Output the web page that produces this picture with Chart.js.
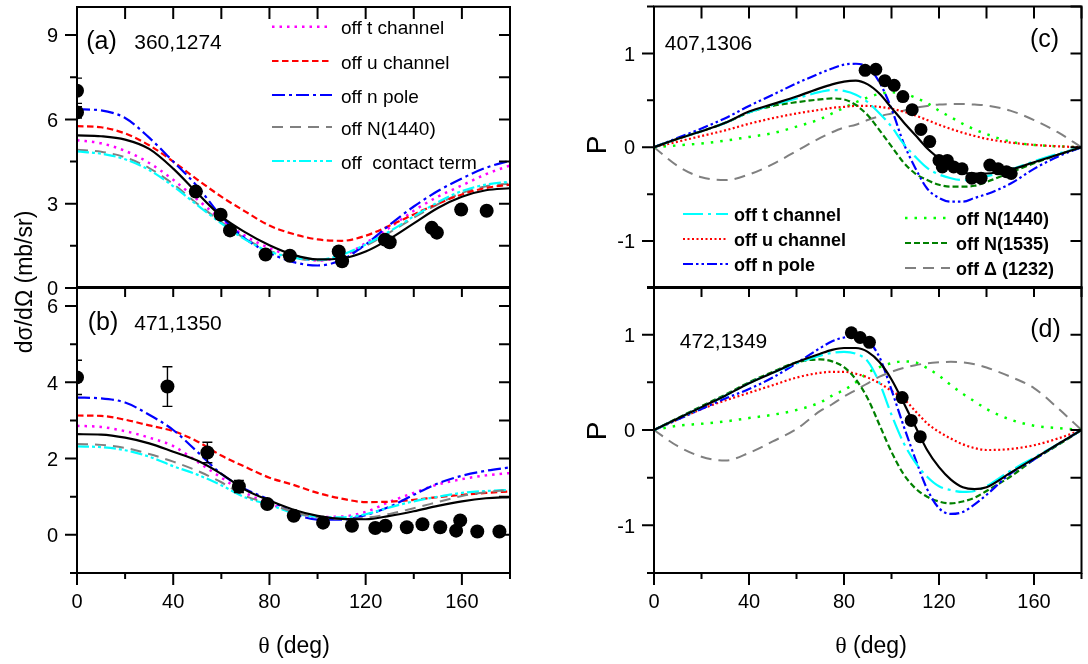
<!DOCTYPE html>
<html><head><meta charset="utf-8">
<script src="https://cdn.jsdelivr.net/npm/chart.js@4.4.1/dist/chart.umd.min.js"></script>
<style>
html,body{margin:0;padding:0;background:#fff;}
#wrap{position:relative;width:1088px;height:664px;overflow:hidden;background:#fff}
canvas{position:absolute;left:0;top:0}
</style></head>
<body><div id="wrap">
<canvas id="cA" width="1088" height="664"></canvas>
<canvas id="cB" width="1088" height="664"></canvas>
<canvas id="cC" width="1088" height="664"></canvas>
<canvas id="cD" width="1088" height="664"></canvas>
</div>
<script>
// ---------- data ----------
const THETA_AB = [0,10,20,30,40,50,60,70,80,90,100,110,120,130,140,150,160,170,180];
const THETA_CD = [0,10,20,30,40,50,60,70,75,80,85,90,95,100,105,110,115,120,125,130,135,140,150,160,170,180];

const X_TICKS = [0,20,40,60,80,100,120,140,160,180];
const X_TICK_LABELS = [0,40,80,120,160];
const Y_LABELS_A = [0,3,6,9];
const Y_MINOR_A = [1.5,4.5,7.5];
const Y_LABELS_B = [0,2,4,6];
const Y_MINOR_B = [-1,1,3,5];
const Y_LABELS_P = [-1,0,1];
const Y_MINOR_P = [-1.5,-0.5,0.5,1.5];

const LEGEND_A = ['off t channel','off u channel','off n pole','off N(1440)','off  contact term'];
const LEGEND_C = ['off t channel','off u channel','off n pole','off N(1440)','off N(1535)','off \u0394 (1232)'];

// (a) 360,1274  dσ/dΩ
const A_full       = [5.43,5.40,5.28,4.95,4.25,3.38,2.55,1.98,1.52,1.18,1.02,1.05,1.30,1.75,2.30,2.85,3.25,3.48,3.55];
const A_offT       = [5.26,5.15,4.88,4.45,3.85,3.15,2.45,1.85,1.42,1.12,0.98,1.12,1.60,2.15,2.75,3.25,3.65,4.05,4.36];
const A_offU       = [5.76,5.72,5.50,5.08,4.50,3.86,3.25,2.72,2.22,1.92,1.73,1.68,1.86,2.22,2.62,3.00,3.33,3.56,3.68];
const A_offN       = [6.36,6.32,6.05,5.35,4.50,3.62,2.55,1.75,1.25,0.92,0.80,1.00,1.55,2.25,2.90,3.45,3.90,4.28,4.53];
const A_offN1440   = [4.92,4.85,4.65,4.27,3.70,3.00,2.35,1.75,1.33,1.08,0.98,1.12,1.50,1.98,2.50,2.98,3.38,3.62,3.72];
const A_offContact = [4.86,4.78,4.58,4.20,3.62,2.95,2.30,1.72,1.30,1.08,1.00,1.18,1.55,2.02,2.55,3.05,3.45,3.68,3.78];
const A_ptTheta = [0,0,49.4,59.7,63.6,78.4,88.5,108.8,110.2,128,130,147.5,149.6,159.7,170.3];
const A_ptVal   = [7.02,6.25,3.43,2.61,2.05,1.19,1.15,1.30,0.95,1.72,1.63,2.14,1.97,2.79,2.75];
const A_ptErr   = [0.45,0.2,0.08,0.08,0.08,0.06,0.06,0.06,0.06,0.08,0.08,0.1,0.1,0.15,0.1];

// (b) 471,1350  dσ/dΩ
const B_full       = [2.64,2.63,2.55,2.40,2.18,1.95,1.60,1.18,0.90,0.66,0.50,0.42,0.41,0.50,0.62,0.76,0.88,0.96,0.99];
const B_offT       = [2.86,2.83,2.72,2.55,2.33,1.92,1.50,1.10,0.82,0.60,0.47,0.48,0.60,0.87,1.10,1.32,1.46,1.56,1.62];
const B_offU       = [3.13,3.12,3.02,2.87,2.72,2.45,2.08,1.78,1.50,1.31,1.10,0.95,0.86,0.87,0.92,0.99,1.05,1.10,1.14];
const B_offN       = [3.60,3.58,3.47,3.15,2.75,2.18,1.60,1.20,0.92,0.57,0.40,0.40,0.52,0.74,1.05,1.35,1.55,1.68,1.77];
const B_offN1440   = [2.38,2.36,2.28,2.12,1.92,1.68,1.38,1.02,0.82,0.60,0.46,0.42,0.45,0.55,0.70,0.86,1.02,1.12,1.18];
const B_offContact = [2.32,2.30,2.22,2.05,1.80,1.58,1.30,0.98,0.79,0.57,0.47,0.46,0.54,0.72,0.88,1.00,1.10,1.15,1.18];
const B_ptTheta = [0,37.6,54.2,67.3,79.1,90.1,102.3,114.3,124,128.2,137.1,143.6,151,157.6,159.3,166.4,175.6];
const B_ptVal   = [4.13,3.89,2.16,1.27,0.81,0.50,0.32,0.24,0.18,0.24,0.20,0.28,0.20,0.11,0.38,0.09,0.09];
const B_ptErr   = [0.45,0.52,0.27,0.16,0.08,0.05,0.04,0.03,0.03,0.03,0.03,0.03,0.03,0.03,0.03,0.03,0.03];

// (c) 407,1306  P
const C_full     = [0,0.09,0.17,0.26,0.38,0.46,0.54,0.63,0.67,0.70,0.71,0.67,0.57,0.42,0.27,0.13,-0.01,-0.12,-0.22,-0.27,-0.28,-0.28,-0.24,-0.16,-0.08,0];
const C_offT     = [0,0.09,0.17,0.26,0.37,0.45,0.52,0.59,0.61,0.60,0.56,0.48,0.36,0.22,0.04,-0.10,-0.22,-0.29,-0.33,-0.35,-0.34,-0.31,-0.24,-0.15,-0.07,0];
const C_offU     = [0,0.06,0.12,0.18,0.25,0.31,0.36,0.40,0.42,0.43,0.44,0.44,0.43,0.41,0.38,0.34,0.29,0.24,0.195,0.155,0.12,0.09,0.05,0.025,0.01,0];
const C_offN     = [0,0.10,0.20,0.31,0.44,0.56,0.68,0.79,0.84,0.88,0.89,0.85,0.69,0.41,0.05,-0.22,-0.44,-0.54,-0.58,-0.58,-0.54,-0.50,-0.39,-0.23,-0.10,0];
const C_offN1440 = [0,0.02,0.04,0.07,0.11,0.15,0.22,0.30,0.36,0.42,0.48,0.53,0.57,0.585,0.575,0.53,0.47,0.39,0.32,0.25,0.19,0.14,0.06,0.025,0.01,0];
const C_offN1535 = [0,0.09,0.17,0.26,0.37,0.44,0.48,0.51,0.52,0.51,0.45,0.34,0.18,0.01,-0.16,-0.28,-0.35,-0.40,-0.42,-0.42,-0.41,-0.37,-0.27,-0.17,-0.08,0];
const C_offD1232 = [0,-0.20,-0.32,-0.35,-0.29,-0.18,-0.04,0.10,0.16,0.21,0.24,0.29,0.33,0.36,0.39,0.42,0.44,0.455,0.46,0.46,0.455,0.445,0.39,0.29,0.16,0];
const C_ptTheta = [88.9,93.4,97.2,101.1,104.8,108.7,112.4,116.1,120,121.4,123.5,126.2,129.7,133.8,137.7,141.4,144.9,148.4,150.4];
const C_ptVal   = [0.82,0.83,0.71,0.66,0.54,0.40,0.19,0.06,-0.14,-0.21,-0.14,-0.21,-0.23,-0.33,-0.33,-0.19,-0.23,-0.26,-0.28];

// (d) 472,1349  P
const D_full     = [0,0.12,0.24,0.36,0.49,0.60,0.71,0.80,0.84,0.86,0.86,0.82,0.71,0.53,0.29,0.04,-0.21,-0.39,-0.52,-0.60,-0.62,-0.60,-0.45,-0.30,-0.15,0];
const D_offT     = [0,0.12,0.24,0.36,0.49,0.60,0.70,0.78,0.81,0.82,0.80,0.72,0.49,0.16,-0.13,-0.34,-0.49,-0.59,-0.63,-0.65,-0.64,-0.59,-0.43,-0.29,-0.15,0];
const D_offU     = [0,0.11,0.22,0.31,0.39,0.47,0.55,0.60,0.61,0.61,0.59,0.55,0.49,0.41,0.33,0.20,0.07,-0.02,-0.09,-0.15,-0.19,-0.21,-0.20,-0.16,-0.09,0];
const D_offN     = [0,0.11,0.22,0.33,0.43,0.55,0.70,0.86,0.93,0.97,0.98,0.94,0.76,0.42,0.05,-0.30,-0.62,-0.82,-0.88,-0.86,-0.78,-0.68,-0.46,-0.31,-0.15,0];
const D_offN1440 = [0,0.045,0.065,0.09,0.125,0.16,0.21,0.29,0.36,0.42,0.50,0.60,0.66,0.70,0.72,0.71,0.65,0.57,0.47,0.38,0.30,0.22,0.11,0.045,0.02,0];
const D_offN1535 = [0,0.125,0.25,0.37,0.50,0.61,0.71,0.74,0.72,0.66,0.53,0.33,0.05,-0.23,-0.46,-0.61,-0.70,-0.75,-0.77,-0.75,-0.71,-0.64,-0.49,-0.31,-0.16,0];
const D_offD1232 = [0,-0.17,-0.28,-0.32,-0.24,-0.12,0.01,0.20,0.27,0.35,0.42,0.49,0.56,0.61,0.65,0.68,0.70,0.71,0.715,0.71,0.69,0.655,0.56,0.44,0.23,0];
const D_ptTheta = [83.1,86.8,90.7,104.5,108.3,112.1];
const D_ptVal   = [1.02,0.97,0.92,0.34,0.10,-0.07];

// ---------- styles ----------
const SANS = "'Liberation Sans', Arial, sans-serif";
const SERIF = "'Liberation Serif', 'Times New Roman', serif";
const S = {
  full:   {c:'#000000', d:[], w:2.2},
  aT:     {c:'#ff00ff', d:[2.5,5], w:2.5},
  aU:     {c:'#ff0000', d:[6.5,3.5], w:2.2},
  aN:     {c:'#0000ff', d:[13,4,3,4], w:2.2},
  aG:     {c:'#808080', d:[11,7], w:2},
  aC:     {c:'#00ffff', d:[12,3,3,3,3,3], w:2.2},
  cT:     {c:'#00ffff', d:[20,5,3,5], w:2.2},
  cU:     {c:'#ff0000', d:[2,2.5], w:2.2},
  cN:     {c:'#0000ff', d:[10,3,2.5,3,2.5,3], w:2.2},
  cL:     {c:'#00ff00', d:[2.5,7], w:2.5},
  cG:     {c:'#008000', d:[6,3], w:2.2},
  cD:     {c:'#808080', d:[11,7], w:2}
};

function pts(xs, ys){ return xs.map((x,i)=>({x:x, y:ys[i]})); }
function fmt(v){ return v<0 ? '-'+Math.abs(v) : String(v); }

function drawParts(ctx, parts, cx, y, rot){
  ctx.save();
  ctx.translate(cx, y);
  if (rot) ctx.rotate(rot);
  let tot = 0;
  parts.forEach(p=>{ ctx.font = p.f; tot += ctx.measureText(p.t).width; });
  let x = -tot/2;
  ctx.textAlign = 'left'; ctx.textBaseline = 'alphabetic'; ctx.fillStyle = '#000';
  parts.forEach(p=>{ ctx.font = p.f; ctx.fillText(p.t, x, 0); x += ctx.measureText(p.t).width; });
  ctx.restore();
}

function makePanel(id, P){
  const datasets = [];
  datasets.push({data:pts(P.pt.x,P.pt.y), showLine:false, pointRadius:P.pr, pointHoverRadius:P.pr,
    pointBackgroundColor:'#000', pointBorderColor:'#000', pointBorderWidth:0, order:0});
  P.series.forEach(s=>datasets.push({data:pts(P.x, s.v), showLine:true, borderColor:s.st.c,
    borderWidth:s.st.w, borderDash:s.st.d, borderCapStyle:'butt', pointRadius:0, pointHoverRadius:0,
    cubicInterpolationMode:'monotone', fill:false, order:s.o}));

  const deco = {
    id:'deco',
    afterDatasetsDraw(chart){
      const ctx = chart.ctx, xs = chart.scales.x, ys = chart.scales.y, ca = chart.chartArea;
      // error bars
      ctx.save();
      ctx.beginPath(); ctx.rect(ca.left, ca.top, ca.right-ca.left, ca.bottom-ca.top); ctx.clip();
      ctx.strokeStyle = '#000'; ctx.lineWidth = 1.4; ctx.setLineDash([]);
      if (P.pt.e) P.pt.x.forEach((t,i)=>{
        const e = P.pt.e[i]; if (!e) return;
        const px = xs.getPixelForValue(t);
        const y1 = ys.getPixelForValue(P.pt.y[i]+e), y2 = ys.getPixelForValue(P.pt.y[i]-e);
        ctx.beginPath();
        ctx.moveTo(px,y1); ctx.lineTo(px,y2);
        ctx.moveTo(px-5,y1); ctx.lineTo(px+5,y1);
        ctx.moveTo(px-5,y2); ctx.lineTo(px+5,y2);
        ctx.stroke();
      });
      ctx.restore();

      // frame + ticks
      ctx.save();
      ctx.strokeStyle = '#000'; ctx.lineWidth = 2; ctx.setLineDash([]);
      ctx.strokeRect(ca.left, ca.top, ca.right-ca.left, ca.bottom-ca.top);
      ctx.beginPath();
      X_TICKS.forEach(v=>{
        const px = xs.getPixelForValue(v);
        const major = X_TICK_LABELS.includes(v);
        ctx.moveTo(px, ca.top); ctx.lineTo(px, ca.top + P.topTick);
        if (P.xLab){ ctx.moveTo(px, ca.bottom); ctx.lineTo(px, ca.bottom + (major?12:6)); }
      });
      P.yMajor.forEach(v=>{
        const py = ys.getPixelForValue(v);
        ctx.moveTo(ca.left, py); ctx.lineTo(ca.left-12, py);
        ctx.moveTo(ca.right, py); ctx.lineTo(ca.right-11, py);
      });
      P.yMinor.forEach(v=>{
        const py = ys.getPixelForValue(v);
        ctx.moveTo(ca.left, py); ctx.lineTo(ca.left-7, py);
        ctx.moveTo(ca.right, py); ctx.lineTo(ca.right-11, py);
      });
      ctx.stroke();

      // tick labels
      ctx.fillStyle = '#000';
      ctx.font = '20px ' + SANS;
      ctx.textAlign = 'right'; ctx.textBaseline = 'alphabetic';
      P.yMajor.forEach(v=>{
        const py = ys.getPixelForValue(v);
        ctx.fillText(fmt(v), ca.left - 19, py + 7.2);
      });
      if (P.xLab){
        ctx.textAlign = 'center';
        X_TICK_LABELS.forEach(v=>{
          ctx.fillText(String(v), xs.getPixelForValue(v), ca.bottom + 35);
        });
      }

      // legend
      (P.legend||[]).forEach(L=>{
        ctx.save();
        ctx.strokeStyle = L.st.c; ctx.lineWidth = L.st.w; ctx.setLineDash(L.st.d); ctx.lineCap = 'butt';
        ctx.beginPath(); ctx.moveTo(L.x1, L.y); ctx.lineTo(L.x2, L.y); ctx.stroke();
        ctx.restore();
        ctx.font = L.f; ctx.textAlign = 'left'; ctx.fillStyle = '#000';
        ctx.fillText(L.t, L.tx, L.y + L.dy);
      });

      // free texts
      (P.texts||[]).forEach(T=>drawParts(ctx, T.parts, T.x, T.y, T.rot||0));
      ctx.restore();
    }
  };

  return new Chart(document.getElementById(id), {
    type:'scatter',
    data:{datasets},
    options:{
      responsive:false, animation:false, events:[],
      layout:{padding:{left:P.L, top:P.T, right:1088-P.R, bottom:664-P.B}},
      plugins:{legend:{display:false}, tooltip:{enabled:false}},
      scales:{
        x:{type:'linear', display:false, min:0, max:180},
        y:{type:'linear', display:false, min:P.ymin, max:P.ymax}
      }
    },
    plugins:[deco]
  });
}

function legendRows(labels, styles, x1, x2, tx, ys, dy, font){
  return labels.map((t,i)=>({t, st:styles[i], x1, x2, tx, y:ys[i], dy, f:font}));
}
const fA = '19px ' + SANS;
const fC = 'bold 18px ' + SANS;

makePanel('cA', {
  L:77, R:510, T:3, B:288, ymin:0, ymax:10, yMajor:Y_LABELS_A, yMinor:Y_MINOR_A, xLab:false, topTick:12, pr:7,
  x:THETA_AB,
  series:[
    {v:A_full, st:S.full, o:1}, {v:A_offContact, st:S.aC, o:2}, {v:A_offN1440, st:S.aG, o:6},
    {v:A_offN, st:S.aN, o:3}, {v:A_offU, st:S.aU, o:4}, {v:A_offT, st:S.aT, o:5}
  ],
  pt:{x:A_ptTheta, y:A_ptVal, e:A_ptErr},
  legend: legendRows(LEGEND_A, [S.aT,S.aU,S.aN,S.aG,S.aC], 272, 332, 341, [26.7,61,95,127,161], 7.5, fA),
  texts:[
    {parts:[{t:'(a)', f:'25px '+SANS}], x:101.5, y:49},
    {parts:[{t:'360,1274', f:'21px '+SANS}], x:178, y:49}
  ]
});

makePanel('cB', {
  L:77, R:510, T:287, B:573, ymin:-1, ymax:6.5, yMajor:Y_LABELS_B, yMinor:Y_MINOR_B, xLab:true, topTick:10, pr:7,
  x:THETA_AB,
  series:[
    {v:B_full, st:S.full, o:1}, {v:B_offContact, st:S.aC, o:3}, {v:B_offN1440, st:S.aG, o:2},
    {v:B_offN, st:S.aN, o:4}, {v:B_offU, st:S.aU, o:5}, {v:B_offT, st:S.aT, o:6}
  ],
  pt:{x:B_ptTheta, y:B_ptVal, e:B_ptErr},
  texts:[
    {parts:[{t:'(b)', f:'25px '+SANS}], x:103, y:330},
    {parts:[{t:'471,1350', f:'21px '+SANS}], x:178, y:330},
    {parts:[{t:'d\u03c3/d\u03a9 (mb/sr)', f:'23px '+SANS}], x:32, y:282, rot:-Math.PI/2},
    {parts:[{t:'\u03b8', f:'24px '+SERIF},{t:' (deg)', f:'23px '+SANS}], x:294, y:653}
  ]
});

makePanel('cC', {
  L:654, R:1087, T:3, B:288, ymin:-1.5, ymax:1.5, yMajor:Y_LABELS_P, yMinor:Y_MINOR_P, xLab:false, topTick:12, pr:6.5,
  x:THETA_CD,
  series:[
    {v:C_full, st:S.full, o:1}, {v:C_offT, st:S.cT, o:2}, {v:C_offU, st:S.cU, o:5},
    {v:C_offN, st:S.cN, o:3}, {v:C_offN1440, st:S.cL, o:6}, {v:C_offN1535, st:S.cG, o:4}, {v:C_offD1232, st:S.cD, o:7}
  ],
  pt:{x:C_ptTheta, y:C_ptVal, e:null},
  legend: legendRows(LEGEND_C.slice(0,3), [S.cT,S.cU,S.cN], 683, 728, 734, [214,239,264], 6.5, fC)
    .concat(legendRows(LEGEND_C.slice(3), [S.cL,S.cG,S.cD], 905, 950, 956, [218,243,268], 6.5, fC)),
  texts:[
    {parts:[{t:'407,1306', f:'21px '+SANS}], x:708.5, y:50},
    {parts:[{t:'(c)', f:'25px '+SANS}], x:1044.5, y:47},
    {parts:[{t:'P', f:'28px '+SANS}], x:606, y:145, rot:-Math.PI/2}
  ]
});

makePanel('cD', {
  L:654, R:1087, T:287, B:573, ymin:-1.5, ymax:1.5, yMajor:Y_LABELS_P, yMinor:Y_MINOR_P, xLab:true, topTick:10, pr:6.5,
  x:THETA_CD,
  series:[
    {v:D_full, st:S.full, o:1}, {v:D_offT, st:S.cT, o:2}, {v:D_offU, st:S.cU, o:5},
    {v:D_offN, st:S.cN, o:3}, {v:D_offN1440, st:S.cL, o:6}, {v:D_offN1535, st:S.cG, o:4}, {v:D_offD1232, st:S.cD, o:7}
  ],
  pt:{x:D_ptTheta, y:D_ptVal, e:null},
  texts:[
    {parts:[{t:'472,1349', f:'21px '+SANS}], x:723.5, y:348},
    {parts:[{t:'(d)', f:'25px '+SANS}], x:1045.5, y:337},
    {parts:[{t:'P', f:'28px '+SANS}], x:606, y:431, rot:-Math.PI/2},
    {parts:[{t:'\u03b8', f:'24px '+SERIF},{t:' (deg)', f:'23px '+SANS}], x:871, y:653}
  ]
});
</script></body></html>
